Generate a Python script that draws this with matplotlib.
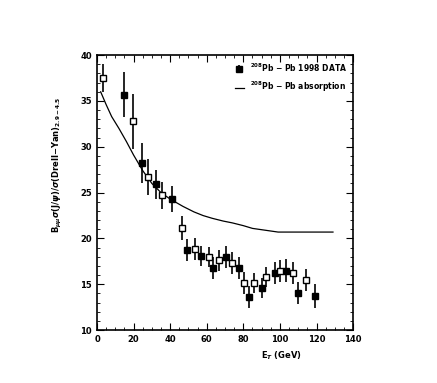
import numpy as np
import matplotlib.pyplot as plt
from matplotlib.ticker import MultipleLocator

# filled points
et_full = [14.8, 24.6, 32.0, 41.0, 49.2, 56.9, 63.4, 70.5, 77.6, 83.1, 90.2, 97.3, 103.3, 109.9, 119.2]
ratio_full = [35.7, 28.2, 25.9, 24.3, 18.7, 18.1, 16.8, 18.0, 16.8, 13.6, 14.6, 16.2, 16.5, 14.1, 13.7]
err_full = [2.5, 2.2, 1.6, 1.4, 1.2, 1.1, 1.2, 1.2, 1.2, 1.2, 1.1, 1.2, 1.3, 1.2, 1.3]

# open points
et_open = [3.0, 19.7, 27.9, 35.5, 46.5, 53.6, 61.2, 66.7, 73.8, 80.4, 85.8, 92.4, 100.0, 107.2, 114.3]
ratio_open = [37.5, 32.8, 26.7, 24.7, 21.1, 18.8, 18.0, 17.6, 17.3, 15.1, 15.1, 15.8, 16.4, 16.2, 15.5]
err_open = [1.5, 3.0, 2.0, 1.5, 1.3, 1.2, 1.1, 1.1, 1.2, 1.2, 1.1, 1.1, 1.2, 1.2, 1.2]

# absorption curve
curve_et = [2, 5, 8, 12, 16, 20, 25, 30, 35, 40, 47, 53, 58, 63, 69, 74, 80, 85, 92, 99, 110, 120, 129]
curve_val = [36.0, 34.6, 33.3, 32.0, 30.6, 29.1, 27.4, 26.0, 25.0, 24.3, 23.5, 22.9, 22.5, 22.2, 21.9, 21.7, 21.4, 21.1, 20.9, 20.7, 20.7, 20.7, 20.7]

plt.rcParams['font.family'] = 'DejaVu Sans'
plt.rcParams['font.weight'] = 'bold'

fig = plt.figure(figsize=(4.37, 3.83), dpi=100)
ax = fig.add_axes([0.222, 0.138, 0.586, 0.718])

ax.plot(curve_et, curve_val, color='black', lw=0.9,
        label=r'$^{208}$Pb $-$ Pb absorption')
ax.errorbar(et_full, ratio_full, yerr=err_full, fmt='s', color='black', ms=4,
            elinewidth=1.2, capsize=0, label=r'$^{208}$Pb $-$ Pb 1998 DATA')
ax.errorbar(et_open, ratio_open, yerr=err_open, fmt='s', color='black', mfc='white',
            ms=4, mew=1, elinewidth=1.2, capsize=0)

ax.set_xlim(0, 140)
ax.set_ylim(10, 40)
ax.xaxis.set_major_locator(MultipleLocator(20))
ax.xaxis.set_minor_locator(MultipleLocator(5))
ax.yaxis.set_major_locator(MultipleLocator(5))
ax.yaxis.set_minor_locator(MultipleLocator(1))
ax.tick_params(which='both', direction='in', top=True, right=True, labelsize=6)
ax.tick_params(which='major', length=5)
ax.tick_params(which='minor', length=2.5)
for s in ax.spines.values():
    s.set_linewidth(1.2)

ax.set_xlabel(r'E$_T$ (GeV)', fontsize=6, fontweight='bold')
ax.xaxis.set_label_coords(0.72, -0.07)
ax.set_ylabel(r'B$_{\mu\mu}\sigma$(J/$\psi$)/$\sigma$(Drell$-$Yan)$_{2.9-4.5}$',
              fontsize=6, fontweight='bold')
ax.yaxis.set_label_coords(-0.13, 0.6)

h, l = ax.get_legend_handles_labels()
ax.legend(h[::-1], l[::-1], loc='upper right', frameon=False, fontsize=5.5,
          handlelength=1.2, borderaxespad=0.4, labelspacing=0.8)

fig.savefig('out.png', dpi=100)
